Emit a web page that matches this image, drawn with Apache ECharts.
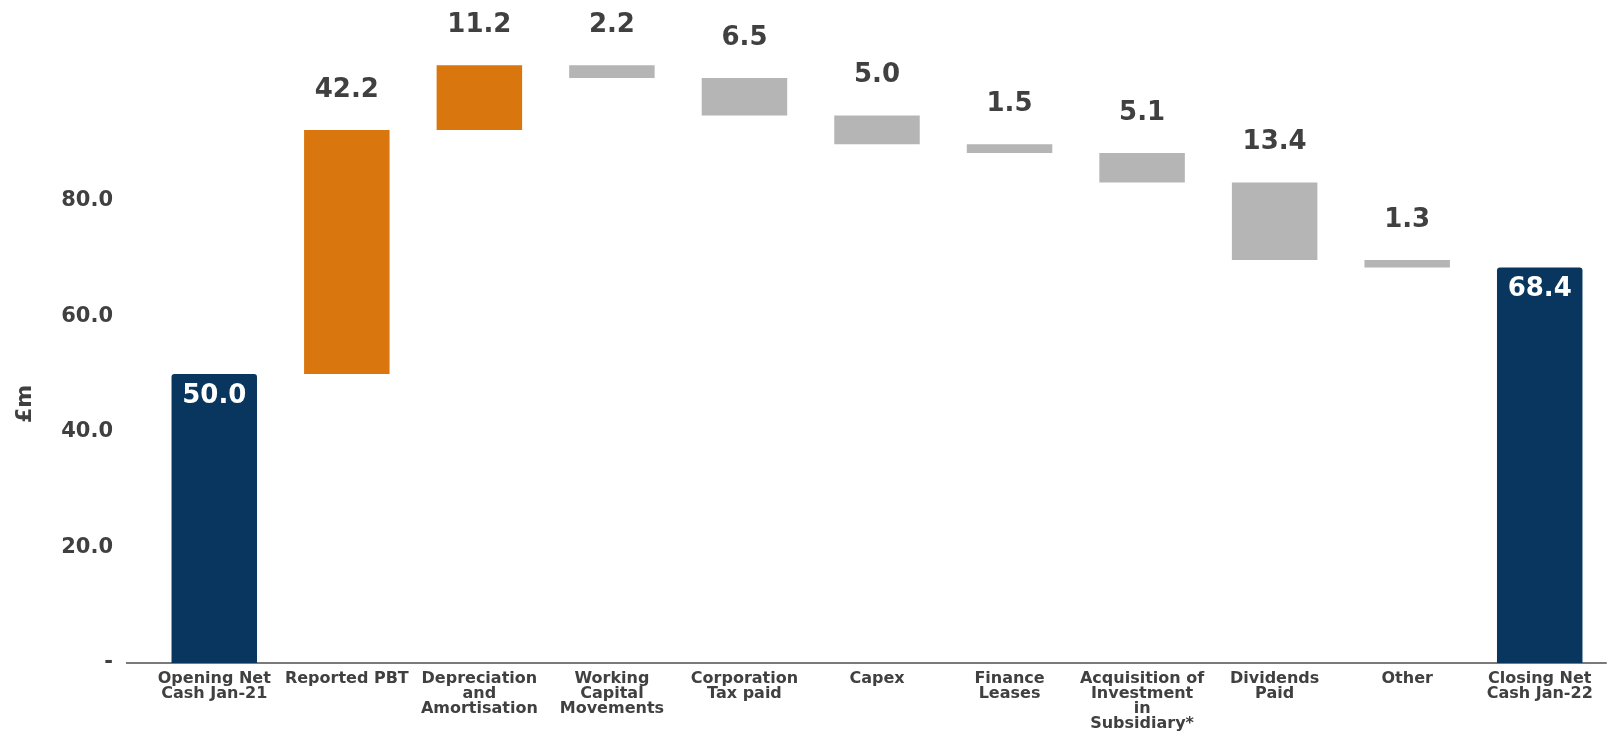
<!DOCTYPE html>
<html>
<head>
    <meta charset="utf-8" />
    <title>Net cash bridge Jan-21 to Jan-22</title>
    <script src="https://cdn.jsdelivr.net/npm/echarts@6/dist/echarts.min.js"></script>
    <style>
        * { margin: 0; padding: 0; box-sizing: border-box; }
        html, body { width: 100%; height: 100%; background: #ffffff; }
        #bridge-chart { width: 1614px; height: 734px; }
    </style>
</head>
<body>
    <div id="bridge-chart"></div>

    <script>
        // categories along the x axis
        const categories = [
            'Opening Net\nCash Jan-21',
            'Reported PBT',
            'Depreciation\nand\nAmortisation',
            'Working\nCapital\nMovements',
            'Corporation\nTax paid',
            'Capex',
            'Finance\nLeases',
            'Acquisition of\nInvestment\nin\nSubsidiary*',
            'Dividends\nPaid',
            'Other',
            'Closing Net\nCash Jan-22'
        ];
        // movement of each step, £m (totals are the full bar)
        const changes = [50.0, 42.2, 11.2, -2.2, -6.5, -5.0, -1.5, -5.1, -13.4, -1.3, 68.4];
        const kinds = ['total', 'up', 'up', 'down', 'down', 'down', 'down', 'down', 'down', 'down', 'total'];
        // y axis ticks that carry a label
        const yTickLabels = [0, 20, 40, 60, 80];

        const colors = { total: '#08365f', up: '#d9760e', down: '#b5b5b5' };
        const textColor = '#404040';
        const font = '"DejaVu Sans", Verdana, sans-serif';

        // invisible offset under each floating bar
        const baseData = [];
        const barData = [];
        let running = 0;
        changes.forEach(function (v, i) {
            const kind = kinds[i];
            let base;
            if (kind === 'total') {
                base = 0;
                running = v;
            } else if (kind === 'up') {
                base = running;
                running += v;
            } else {
                running += v;
                base = running;
            }
            baseData.push(+base.toFixed(1));
            barData.push({
                value: Math.abs(v),
                itemStyle: {
                    color: colors[kind],
                    borderRadius: kind === 'total' ? [3, 3, 0, 0] : 0
                },
                label: kind === 'total'
                    ? { position: 'insideTop', distance: 9, color: '#ffffff' }
                    : { position: 'top', distance: 27, color: textColor }
            });
        });

        const chart = echarts.init(document.getElementById('bridge-chart'));

        const option = {
            animation: false,
            textStyle: { fontFamily: font },
            grid: {
                left: 148,
                right: 8,
                top: 27,
                bottom: 71,
                containLabel: false,
                outerBoundsMode: 'none'
            },
            xAxis: {
                type: 'category',
                data: categories,
                axisLine: { show: true, lineStyle: { color: '#7a7a7a', width: 2 } },
                axisTick: { show: false },
                axisLabel: {
                    interval: 0,
                    margin: 8,
                    color: textColor,
                    fontFamily: font,
                    fontWeight: 'bold',
                    fontSize: 16,
                    lineHeight: 15,
                    align: 'center'
                },
                splitLine: { show: false }
            },
            yAxis: {
                type: 'value',
                min: 0,
                max: 110,
                interval: 20,
                axisLine: { show: false },
                axisTick: { show: false },
                splitLine: { show: false },
                axisLabel: {
                    margin: 35,
                    color: textColor,
                    fontFamily: font,
                    fontWeight: 'bold',
                    fontSize: 21,
                    showMaxLabel: false,
                    formatter: function (val) {
                        if (yTickLabels.indexOf(val) < 0) return '';
                        return val === 0 ? '-' : val.toFixed(1);
                    }
                }
            },
            graphic: [
                {
                    type: 'line',
                    shape: { x1: 126, y1: 663, x2: 149, y2: 663 },
                    style: { stroke: '#7a7a7a', lineWidth: 2 }
                },
                {
                    type: 'text',
                    x: 25,
                    y: 404,
                    rotation: Math.PI / 2,
                    style: {
                        text: '£m',
                        fill: textColor,
                        font: 'bold 22px ' + font,
                        align: 'center',
                        verticalAlign: 'middle'
                    }
                }
            ],
            series: [
                {
                    name: 'base',
                    type: 'bar',
                    stack: 'bridge',
                    data: baseData,
                    barWidth: '64.5%',
                    itemStyle: { color: 'transparent' },
                    emphasis: { disabled: true },
                    silent: true
                },
                {
                    name: 'movement',
                    type: 'bar',
                    stack: 'bridge',
                    data: barData,
                    barWidth: '64.5%',
                    label: {
                        show: true,
                        fontFamily: font,
                        fontWeight: 'bold',
                        fontSize: 26,
                        formatter: function (p) { return p.value.toFixed(1); }
                    }
                }
            ]
        };

        chart.setOption(option);
    </script>
</body>
</html>
